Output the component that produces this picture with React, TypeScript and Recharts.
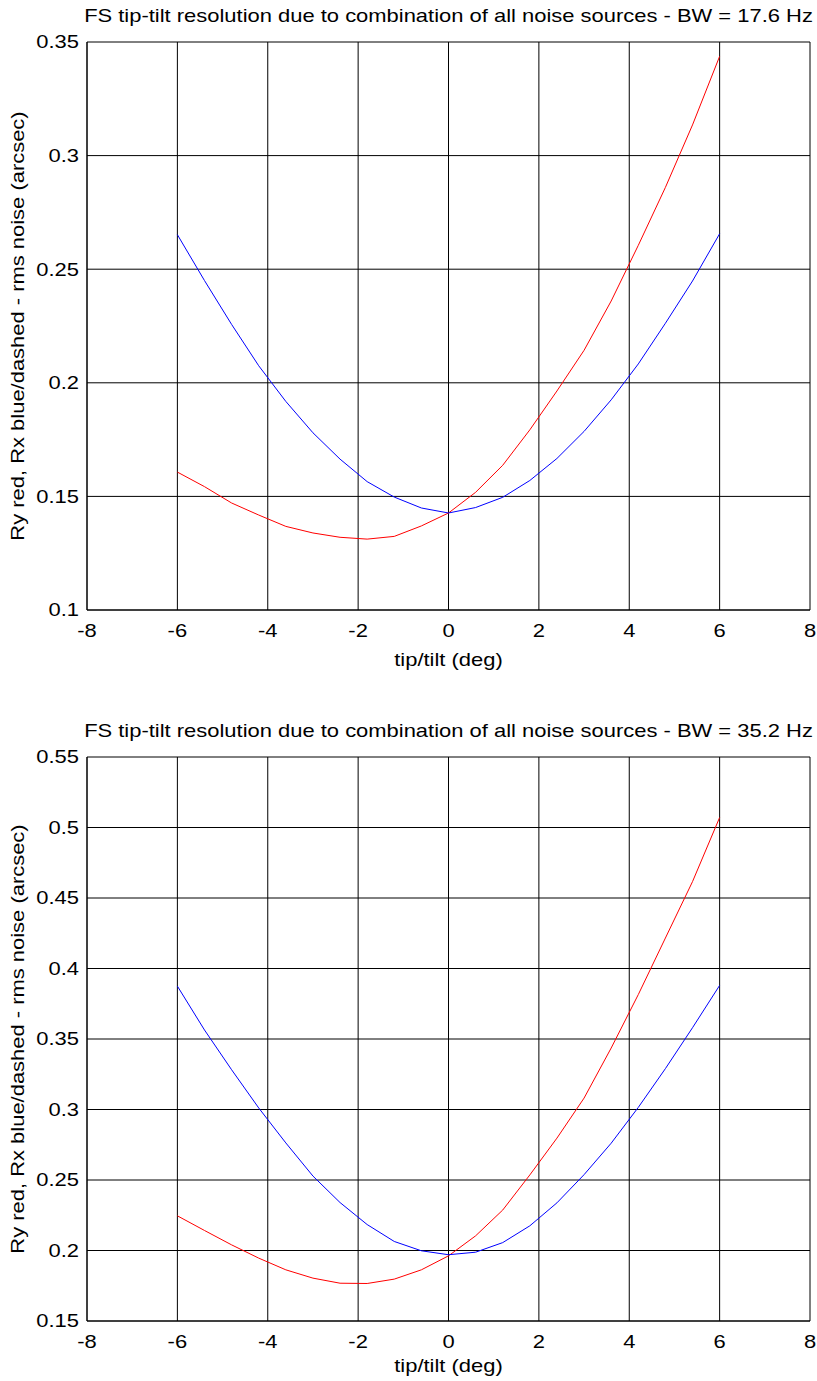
import { LineChart, Line, XAxis, YAxis, CartesianGrid } from "recharts";

// tip/tilt angle (deg), sampled every 0.6 deg
const tilt = [-6, -5.4, -4.8, -4.2, -3.6, -3, -2.4, -1.8, -1.2, -0.6, 0, 0.6, 1.2, 1.8, 2.4, 3, 3.6, 4.2, 4.8, 5.4, 6];

// BW = 17.6 Hz
const ryLow = [0.1607, 0.1543, 0.1471, 0.1418, 0.1368, 0.1339, 0.132, 0.1312, 0.1324, 0.137, 0.1427, 0.1518, 0.1637, 0.1793, 0.1964, 0.2143, 0.236, 0.2605, 0.286, 0.3135, 0.3437];
const rxLow = [0.2652, 0.245, 0.2257, 0.2075, 0.1918, 0.178, 0.1664, 0.1565, 0.1497, 0.1449, 0.1427, 0.1451, 0.1496, 0.157, 0.1667, 0.1786, 0.1925, 0.2083, 0.2262, 0.2448, 0.2656];

// BW = 35.2 Hz
const ryHigh = [0.2246, 0.2142, 0.204, 0.1946, 0.1863, 0.1804, 0.1768, 0.1766, 0.1797, 0.1863, 0.1962, 0.2104, 0.2287, 0.2536, 0.2797, 0.3081, 0.3436, 0.3815, 0.4216, 0.4616, 0.5071];
const rxHigh = [0.3875, 0.3564, 0.3282, 0.3011, 0.2763, 0.2528, 0.234, 0.2184, 0.2064, 0.1998, 0.197, 0.1988, 0.2056, 0.2175, 0.2338, 0.2538, 0.2761, 0.3015, 0.329, 0.358, 0.388];

const xTicks = [-8, -6, -4, -2, 0, 2, 4, 6, 8];
const yTicksLow = [0.1, 0.15, 0.2, 0.25, 0.3, 0.35];
const yTicksHigh = [0.15, 0.2, 0.25, 0.3, 0.35, 0.4, 0.45, 0.5, 0.55];

const titleLow = "FS tip-tilt resolution due to combination of all noise sources - BW = 17.6 Hz";
const titleHigh = "FS tip-tilt resolution due to combination of all noise sources - BW = 35.2 Hz";
const xLabel = "tip/tilt (deg)";
const yLabel = "Ry red, Rx blue/dashed - rms noise (arcsec)";

const FONT = '"Liberation Sans", Arial, Helvetica, sans-serif';
const FS = 18;
const SX = 1.22; // the reference glyphs are wider than Arial

const W = 817;
const H = 700;
const LEFT = 87;
const RIGHT = 810;

const XTick = ({ x, y, payload }: any) => (
  <g transform={`translate(${x},${y})`}>
    <text transform={`scale(${SX},1)`} textAnchor="middle" dy="0.71em" fontSize={FS} fontFamily={FONT} fill="#000">
      {String(payload.value)}
    </text>
  </g>
);

const YTick = ({ x, y, payload }: any) => (
  <g transform={`translate(${x},${y})`}>
    <text transform={`scale(${SX},1)`} textAnchor="end" dy="0.355em" fontSize={FS} fontFamily={FONT} fill="#000">
      {String(payload.value)}
    </text>
  </g>
);

function Panel({ top, plotBottom, xLabelGap, title, ry, rx, yTicks }: any) {
  const data = tilt.map((t, i) => ({ x: t, ry: ry[i], rx: rx[i] }));
  const plotTop = 42;
  const midX = (LEFT + RIGHT) / 2;
  const midY = (plotTop + plotBottom) / 2;
  return (
    <div style={{ position: "absolute", left: 0, top, width: W, height: H }}>
      <LineChart
        width={W}
        height={H}
        data={data}
        margin={{ top: plotTop, right: W - RIGHT, bottom: H - plotBottom - 30, left: LEFT - 50 }}
      >
        <CartesianGrid stroke="#000" strokeWidth={1} fill="none" />
        <XAxis
          dataKey="x"
          type="number"
          domain={[-8, 8]}
          ticks={xTicks}
          height={30}
          axisLine={{ stroke: "#000" }}
          tickLine={false}
          tickMargin={8}
          tick={<XTick />}
          interval={0}
        />
        <YAxis
          type="number"
          domain={[yTicks[0], yTicks[yTicks.length - 1]]}
          ticks={yTicks}
          width={50}
          axisLine={{ stroke: "#000" }}
          tickLine={false}
          tick={<YTick />}
          interval={0}
        />
        <Line type="linear" dataKey="ry" stroke="#ff0000" strokeWidth={1} dot={false} isAnimationActive={false} />
        <Line type="linear" dataKey="rx" stroke="#0000ff" strokeWidth={1} dot={false} isAnimationActive={false} />
      </LineChart>
      <svg width={W} height={H} style={{ position: "absolute", left: 0, top: 0, pointerEvents: "none" }}>
        <g transform={`translate(${midX},${plotTop - 20})`}>
          <text transform={`scale(${SX},1)`} textAnchor="middle" fontSize={FS} fontFamily={FONT} fill="#000">
            {title}
          </text>
        </g>
        <g transform={`translate(${midX},${plotBottom + xLabelGap})`}>
          <text transform={`scale(${SX},1)`} textAnchor="middle" fontSize={FS} fontFamily={FONT} fill="#000">
            {xLabel}
          </text>
        </g>
        <g transform={`translate(24,${midY}) rotate(-90)`}>
          <text transform={`scale(${SX},1)`} textAnchor="middle" fontSize={FS} fontFamily={FONT} fill="#000">
            {yLabel}
          </text>
        </g>
      </svg>
    </div>
  );
}

export default function App() {
  return (
    <div style={{ position: "absolute", left: 0, top: 0, width: W, height: 1381, background: "#fff" }}>
      <Panel top={0} plotBottom={610} xLabelGap={56} title={titleLow} ry={ryLow} rx={rxLow} yTicks={yTicksLow} />
      <Panel top={715} plotBottom={606} xLabelGap={51} title={titleHigh} ry={ryHigh} rx={rxHigh} yTicks={yTicksHigh} />
    </div>
  );
}
